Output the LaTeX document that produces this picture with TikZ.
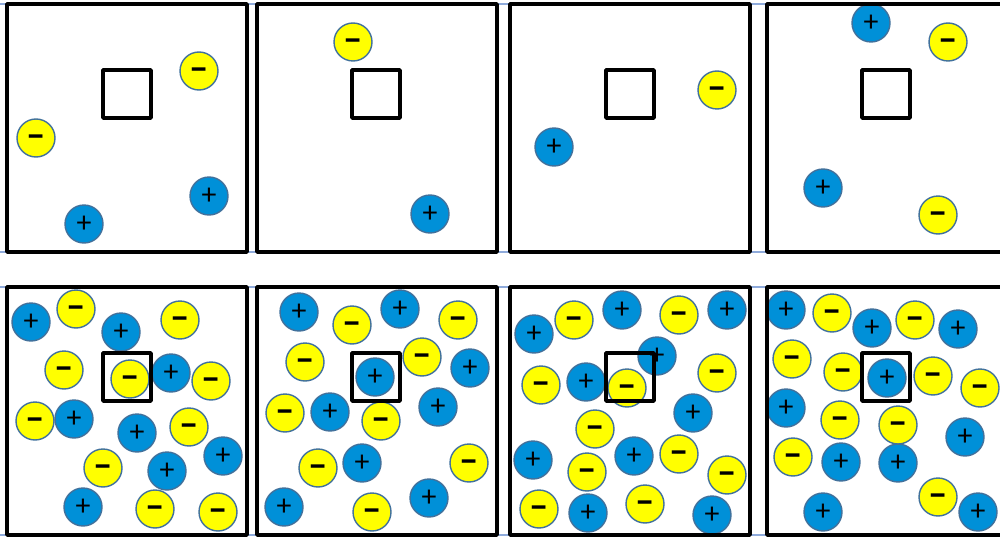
\documentclass[tikz,border=0pt]{standalone}
\usepackage{fontspec}
\setmainfont{Carlito}
\usetikzlibrary{positioning}
\definecolor{IonBlue}  {HTML}{0090D8}
\definecolor{IonYellow}{HTML}{FFFF00}
\definecolor{Rim}      {HTML}{41719C}
\definecolor{Gridline} {HTML}{8EAADB}

\begin{document}
\begin{tikzpicture}[x=0.02cm, y=-0.02cm,
    panel/.style={line width=2.1pt, line join=round},
    probe/.style={line width=2pt, line join=round},
    ion/.style={circle, draw=Rim, line width=0.8pt, minimum size=0.76cm,
                inner sep=0pt, text=black},
    cation/.style={ion, fill=IonBlue, font=\fontsize{17}{17}\selectfont},
    anion/.style={ion, fill=IonYellow, font=\fontsize{22}{22}\selectfont\bfseries,
                  text height=1.05em, text depth=0pt}]
  \clip (0,0) rectangle (1000,537);
  % faint table lines behind the panels
  \foreach \yy in {4, 252, 287, 535}
    \draw[Gridline, line width=0.6pt] (0,\yy) -- (1000,\yy);
  % ions, top row (few) and bottom row (many)
  \foreach \x/\y [count=\i] in {84/224, 209/196, 430/214, 554/147, 871/23, 823/188,
      31/322, 121/332, 171/373, 74/419, 137/433, 223/456, 167/471, 83/507,
      299/312, 400/309, 375/377, 470/368, 330/412, 438/407, 362/463, 284/507, 429/498,
      534/334, 622/310, 727/310, 657/356, 586/382, 693/413, 533/460, 634/456, 588/513, 712/515,
      786/310, 872/328, 958/329, 887/378, 786/408, 965/437, 841/462, 898/463, 823/512, 978/512}
    \node[cation] (pos\i) at (\x,\y) {+};
  \foreach \x/\y [count=\i] in {199/71, 36/138, 353/42, 717/90, 948/42, 938/215,
      76/309, 180/320, 64/370, 130/379, 211/381, 35/421, 189/427, 103/468, 155/509, 218/512,
      352/325, 458/320, 305/362, 422/357, 285/413, 381/421, 318/468, 469/463, 372/512,
      574/320, 679/315, 541/385, 627/388, 717/373, 595/429, 587/472, 679/454, 727/475, 539/509, 645/504,
      832/313, 915/320, 792/359, 843/372, 933/376, 980/388, 840/420, 898/425, 793/457, 938/497}
    \node[anion] (neg\i) at (\x,\y) {–};
  % panels with the small square in each
  \foreach \px/\sx in {7/103, 257/352, 510/606, 767/862}
    \foreach \dy in {0, 283} {
      \draw[panel] (\px,4+\dy) rectangle (\px+240,252+\dy);
      \draw[probe] (\sx,70+\dy) rectangle (\sx+48,118+\dy);
    }
\end{tikzpicture}
\end{document}
